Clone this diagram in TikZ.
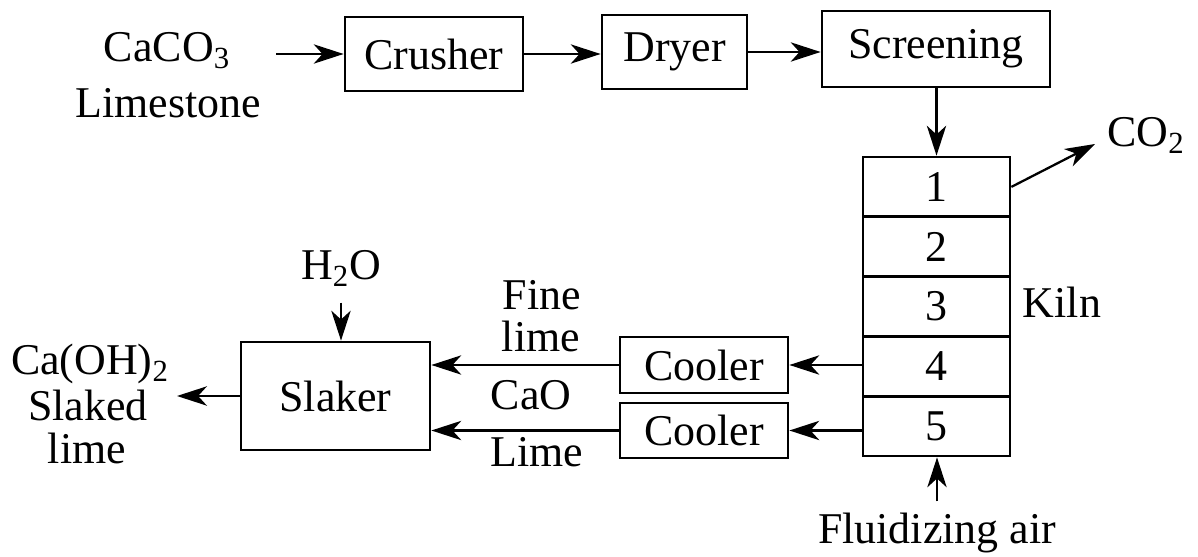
\documentclass[tikz,border=0pt]{standalone}
\usepackage{fontspec}
\setmainfont{Liberation Serif}
\usetikzlibrary{arrows.meta}

\begin{document}
\begin{tikzpicture}[x=0.02cm, y=-0.02cm, line width=1.3pt,
    font=\fontsize{25}{30}\selectfont,
    unit/.style={draw, line width=1.6pt, inner sep=0pt, minimum height=1.48cm},
    zone/.style={draw, line width=1.6pt, inner sep=0pt, minimum width=2.94cm, minimum height=1.196cm},
    flow/.style={-{Stealth[length=17pt, width=11pt, inset=5pt]}},
    tag/.style={inner sep=0pt, anchor=base}]
    \useasboundingbox (0,0) rectangle (1198,557);

    % 前処理の流れ
    \node[tag] (caco) at (167,62) {CaCO\textsubscript{3}};
    \node[tag] (lst) at (168,118) {Limestone};
    \node[unit, minimum width=3.56cm] (crush) at (434,54) {Crusher};
    \node[unit, minimum width=2.9cm] (dry) at (674.5,52) {Dryer};
    \node[unit, minimum width=4.56cm, minimum height=1.52cm] (scr) at (936,49) {Screening};
    \coordinate (feed) at (276,54);
    \draw[flow] (feed) -- (crush);
    \draw[flow] (crush.east) -- (crush.east -| dry.west);
    \draw[flow] (dry.east) -- (dry.east -| scr.west);

    % 焼成炉 (5段)
    \foreach \i in {1,...,5}
        \node[zone] (k\i) at (936.5, {127.1+59.8*\i}) {\i};
    \node[tag] (kiln) at (1062,318) {Kiln};
    \draw[flow] (scr.south -| k1) -- (k1.north);
    \node[tag] (co2) at (1146,147) {CO\textsubscript{2}};
    \coordinate (vent) at (1095,144);
    \draw[flow] (k1.east) -- (vent);
    \node[tag] (air) at (937,543) {Fluidizing air};
    \draw[flow, shorten <=0.2cm] (air.north) -- (air.north |- k5.south);

    % 冷却器
    \node[unit, minimum width=3.36cm, minimum height=1.12cm] (c1) at (704,365) {Cooler};
    \node[unit, minimum width=3.36cm, minimum height=1.1cm] (c2) at (704,430.5) {Cooler};
    \draw[flow] (c1.east -| k4.west) -- (c1.east);
    \draw[flow] (c2.east -| k5.west) -- (c2.east);

    % 消化器
    \node[unit, minimum width=3.78cm, minimum height=2.16cm] (slk) at (335.5,396) {Slaker};
    \draw[flow] (c1.west) -- (c1.west -| slk.east);
    \draw[flow] (c2.west) -- (c2.west -| slk.east);
    \node[tag] (fine) at (542,310) {Fine};
    \node[tag] (fine2) at (541,352) {lime};
    \node[tag] (cao) at (531,410) {CaO};
    \node[tag] (lime) at (537,467) {Lime};
    \node[tag] (h2o) at (341,280) {H\textsubscript{2}O};
    \draw[flow, shorten <=0.3cm] (h2o.south) -- (h2o.south |- slk.north);
    \node[tag] (prod) at (90,375) {Ca(OH)\textsubscript{2}};
    \node[tag] (prod2) at (88,420) {Slaked};
    \node[tag] (prod3) at (87,463) {lime};
    \coordinate (out) at (177,396);
    \draw[flow] (slk.west) -- (out);
\end{tikzpicture}
\end{document}
